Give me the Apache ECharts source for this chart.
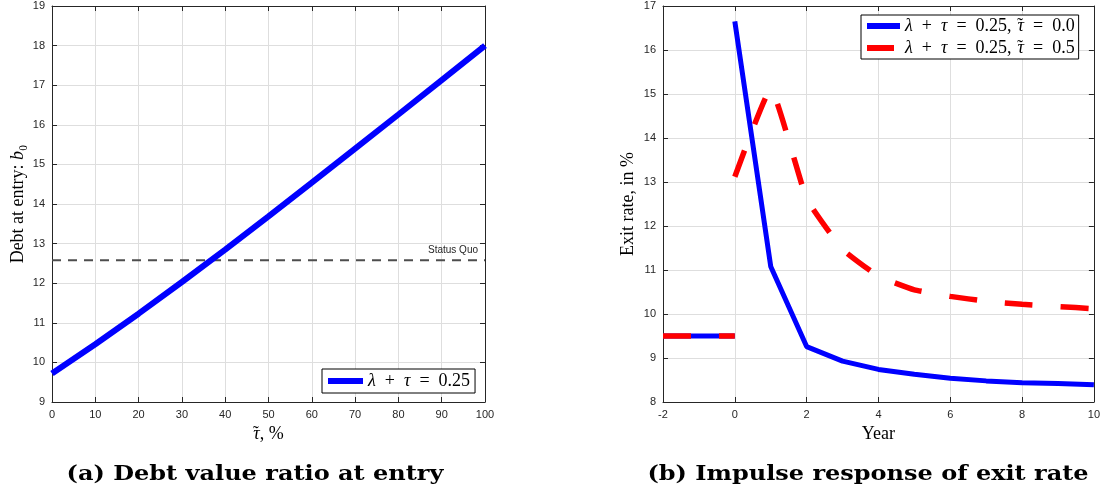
<!DOCTYPE html>
<html><head><meta charset="utf-8">
<script src="https://cdn.jsdelivr.net/npm/echarts@6/dist/echarts.min.js"></script>
<style>html,body{margin:0;padding:0;background:#fff}#c{width:1103px;height:498px}</style>
</head><body><div id="c"></div>
<script>
// ---- data ----
const tauTildePct = [0, 10, 20, 30, 40, 50, 60, 70, 80, 90, 100];
const debtAtEntry = [9.72, 10.46, 11.23, 12.03, 12.85, 13.69, 14.54, 15.40, 16.26, 17.13, 18.0];
const statusQuo = 12.58;
const statusQuoX = [0, 100];
const preYears = [-2, 0];
const preExitRate = [9.5, 9.5];
const years = [0, 1, 2, 3, 4, 5, 6, 7, 8, 9, 10];
const exitRateTau00 = [16.65, 11.08, 9.26, 8.93, 8.74, 8.63, 8.54, 8.48, 8.44, 8.42, 8.39];
const exitRateTau05 = [13.12, 15.12, 12.62, 11.47, 10.86, 10.55, 10.4, 10.29, 10.22, 10.17, 10.12];
const leftXTicks = {min: 0, max: 100, interval: 10};
const leftYTicks = {min: 9, max: 19, interval: 1};
const rightXTicks = {min: -2, max: 10, interval: 2};
const rightYTicks = {min: 8, max: 17, interval: 1};
const nameA = 'lt';
const nameB0 = 'b0';
const nameB5 = 'b5';
const captionA = '(a) Debt value ratio at entry';
const captionB = '(b) Impulse response of exit rate';

const zip = (xs, ys) => xs.map((x, i) => [x, ys[i]]);
const AX = '#262626';
const GRIDC = '#dedede';
const tickFont = {color: AX, fontFamily: 'Liberation Sans', fontSize: 11};
const serif = 'Liberation Serif';
function rich(fs) {
  return {
    i: {fontFamily: serif, fontStyle: 'italic', fontSize: fs, color: '#000'},
    t: {fontFamily: serif, fontSize: fs, color: '#000'},
    c: {fontFamily: serif, fontSize: fs, color: '#000', padding: [0, 6, 0, 0]},
    o: {fontFamily: serif, fontSize: fs, color: '#000', padding: [0, 9, 0, 9]},
    tl: {fontFamily: serif, fontSize: fs, color: '#000', padding: [0, 1, 0, -7]}
  };
}
const TT = '{i|τ}{tl|˜}';

function mainAxis(pos, gi, t, extra) {
  return Object.assign({
    type: 'value', gridIndex: gi, position: pos,
    min: t.min, max: t.max, interval: t.interval,
    axisLine: {show: true, onZero: false, lineStyle: {color: AX, width: 1}},
    axisTick: {show: true, inside: true, length: 5, lineStyle: {color: AX}},
    axisLabel: Object.assign({margin: 7}, tickFont),
    splitLine: {show: true, lineStyle: {color: GRIDC, width: 1}}
  }, extra || {});
}
function mirrorAxis(pos, gi, t) {
  return {
    type: 'value', gridIndex: gi, position: pos,
    min: t.min, max: t.max, interval: t.interval,
    axisLine: {show: true, onZero: false, lineStyle: {color: AX, width: 1}},
    axisTick: {show: true, inside: true, length: 5, lineStyle: {color: AX}},
    axisLabel: {show: false}, splitLine: {show: false}
  };
}

const chart = echarts.init(document.getElementById('c'), null, {renderer: 'canvas'});
chart.setOption({
  animation: false,
  backgroundColor: '#fff',
  grid: [
    {left: 52, top: 6, width: 433, height: 396},
    {left: 663, top: 6, width: 433, height: 396}
  ],
  xAxis: [
    mainAxis('bottom', 0, leftXTicks, {
      name: TT + '{t|, %}', nameLocation: 'middle', nameGap: 22,
      nameTextStyle: {rich: rich(18)}
    }),
    mirrorAxis('top', 0, leftXTicks),
    mainAxis('bottom', 1, rightXTicks, {
      name: 'Year', nameLocation: 'middle', nameGap: 22,
      nameTextStyle: {fontFamily: serif, fontSize: 18, color: '#000'}
    }),
    mirrorAxis('top', 1, rightXTicks)
  ],
  yAxis: [
    mainAxis('left', 0, leftYTicks, {
      name: '{t|Debt at entry: }{i|b}{t|₀}', nameLocation: 'middle', nameGap: 25, nameRotate: 90,
      nameTextStyle: {rich: rich(18)}
    }),
    mirrorAxis('right', 0, leftYTicks),
    mainAxis('left', 1, rightYTicks, {
      name: 'Exit rate, in %', nameLocation: 'middle', nameGap: 26, nameRotate: 90,
      nameTextStyle: {fontFamily: serif, fontSize: 18, color: '#000'}
    }),
    mirrorAxis('right', 1, rightYTicks)
  ],
  legend: [
    {
      data: [{name: nameA, icon: 'rect'}],
      left: 322, top: 369, orient: 'vertical',
      itemWidth: 35, itemHeight: 6, itemGap: 4,
      padding: [3, 5, 3, 6],
      borderColor: '#000', borderWidth: 1, backgroundColor: '#fff',
      itemStyle: {borderWidth: 0},
      formatter: () => '{i|λ}{o|+}{i|τ}{o|=}{t|0.25}',
      textStyle: {rich: rich(18), lineHeight: 18},
      selectedMode: false
    },
    {
      data: [
        {name: nameB0, icon: 'rect'},
        {name: nameB5, icon: 'path://M0,0H27V6H0Z M32.9,0H33V0.05H32.9Z'}
      ],
      left: 861, top: 15, orient: 'vertical',
      itemWidth: 33, itemHeight: 6, itemGap: 4,
      padding: [2, 4, 2, 6],
      borderColor: '#000', borderWidth: 1, backgroundColor: '#fff',
      itemStyle: {borderWidth: 0},
      formatter: (n) => '{i|λ}{o|+}{i|τ}{o|=}{c|0.25,}' + TT + '{o|=}{t|' + (n === nameB0 ? '0.0' : '0.5') + '}',
      textStyle: {rich: rich(18), lineHeight: 18},
      selectedMode: false
    }
  ],
  graphic: [
    {type: 'text', x: 255, y: 475, scaleX: 1.2, silent: true,
     style: {text: captionA, align: 'center', verticalAlign: 'middle', fill: '#000',
             fontFamily: 'DejaVu Serif', fontWeight: 'bold', fontSize: 20}},
    {type: 'text', x: 868, y: 475, scaleX: 1.2, silent: true,
     style: {text: captionB, align: 'center', verticalAlign: 'middle', fill: '#000',
             fontFamily: 'DejaVu Serif', fontWeight: 'bold', fontSize: 20}}
  ],
  series: [
    {
      name: 'Status Quo', type: 'line', xAxisIndex: 0, yAxisIndex: 0,
      symbol: 'none', silent: true,
      lineStyle: {color: '#4d4d4d', width: 2, type: [9, 7]},
      data: zip(statusQuoX, statusQuoX.map(() => statusQuo)),
      markPoint: {
        silent: true, symbol: 'rect', symbolSize: 1, itemStyle: {color: 'rgba(0,0,0,0)'},
        label: {show: true, position: 'top', distance: 4, align: 'right', offset: [-7, 0],
                formatter: 'Status Quo', fontFamily: 'Liberation Sans', fontSize: 10, color: AX},
        data: [{coord: [statusQuoX[1], statusQuo]}]
      }
    },
    {
      name: nameA, type: 'line', xAxisIndex: 0, yAxisIndex: 0,
      symbol: 'none', color: '#0000ff',
      lineStyle: {color: '#0000ff', width: 6},
      data: zip(tauTildePct, debtAtEntry)
    },
    {
      name: nameB0, type: 'line', xAxisIndex: 2, yAxisIndex: 2,
      symbol: 'none', color: '#0000ff',
      lineStyle: {color: '#0000ff', width: 5},
      data: zip(preYears, preExitRate)
    },
    {
      name: nameB0, type: 'line', xAxisIndex: 2, yAxisIndex: 2,
      symbol: 'none', color: '#0000ff',
      lineStyle: {color: '#0000ff', width: 5},
      data: zip(years, exitRateTau00)
    },
    {
      name: nameB5, type: 'line', xAxisIndex: 2, yAxisIndex: 2,
      symbol: 'none', color: '#ff0000',
      lineStyle: {color: '#ff0000', width: 5.5, type: [28, 28], cap: 'butt'},
      data: zip(preYears, preExitRate)
    },
    {
      name: nameB5, type: 'line', xAxisIndex: 2, yAxisIndex: 2,
      symbol: 'none', color: '#ff0000', smooth: 0.12,
      lineStyle: {color: '#ff0000', width: 5.5, type: [28, 28], cap: 'butt'},
      data: zip(years, exitRateTau05)
    }
  ]
});
</script></body></html>
